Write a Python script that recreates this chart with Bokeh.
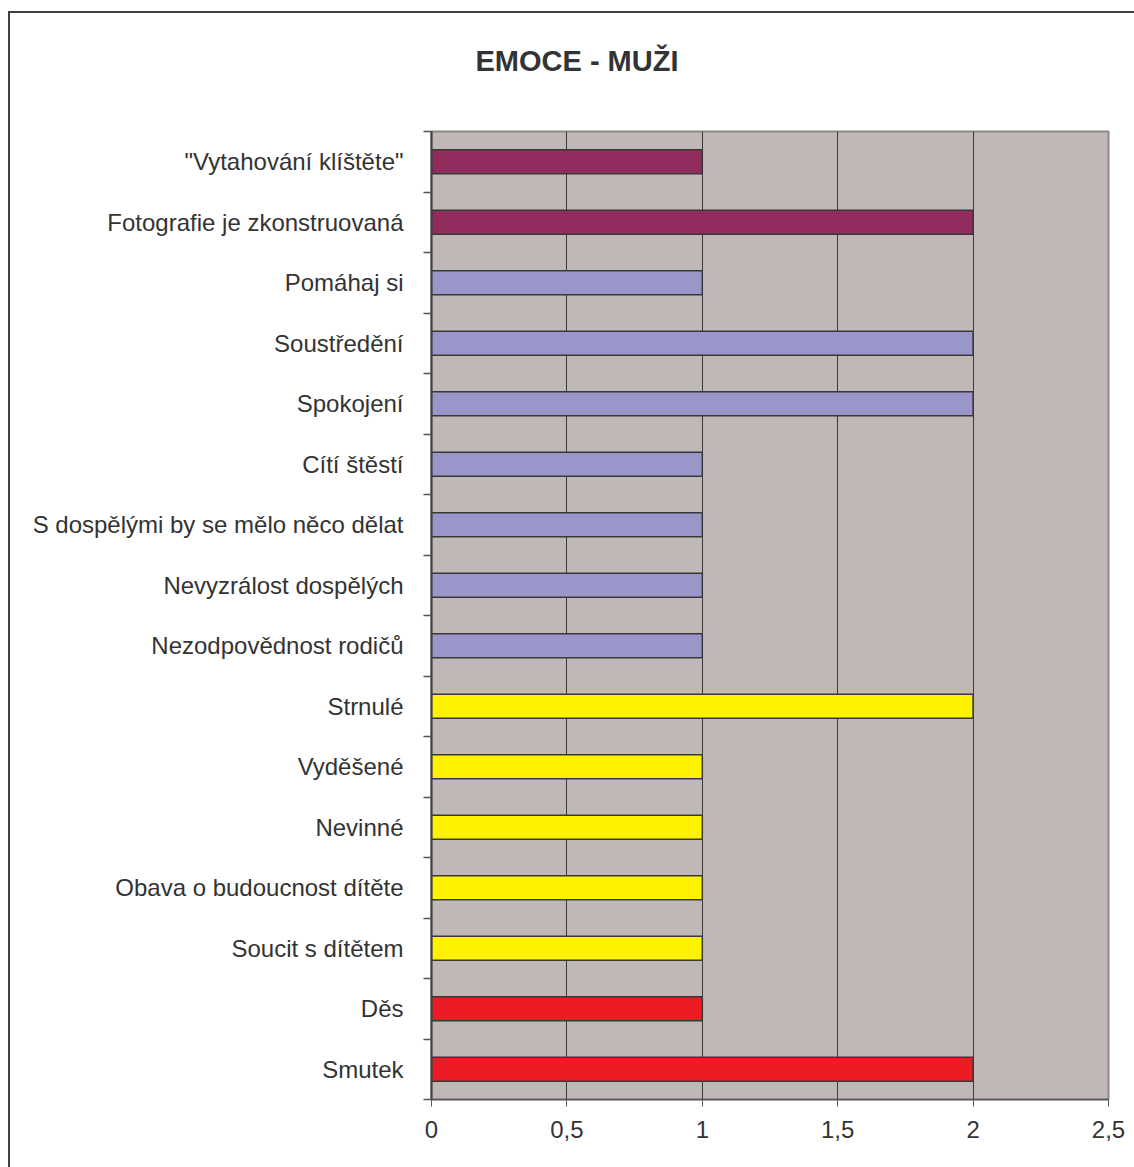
from bokeh.plotting import figure
from bokeh.models import Range1d, FixedTicker, Title, ColumnDataSource
from bokeh.embed import file_html
from bokeh.resources import INLINE

# Data (top to bottom as in the chart)
categories = [
    '"Vytahování klíštěte"',
    "Fotografie je zkonstruovaná",
    "Pomáhaj si",
    "Soustředění",
    "Spokojení",
    "Cítí štěstí",
    "S dospělými by se mělo něco dělat",
    "Nevyzrálost dospělých",
    "Nezodpovědnost rodičů",
    "Strnulé",
    "Vyděšené",
    "Nevinné",
    "Obava o budoucnost dítěte",
    "Soucit s dítětem",
    "Děs",
    "Smutek",
]
values = [1, 2, 1, 2, 2, 1, 1, 1, 1, 2, 1, 1, 1, 1, 1, 2]
colors = ["#922B5E"] * 2 + ["#9B96CA"] * 7 + ["#FFF200"] * 5 + ["#ED1C24"] * 2
x_ticks = [0, 0.5, 1, 1.5, 2, 2.5]
x_tick_labels = ["0", "0,5", "1", "1,5", "2", "2,5"]

n = len(categories)
# bottom-up positions
ypos = [n - 1 - i + 0.5 for i in range(n)]

src = ColumnDataSource(dict(y=ypos, v=values, c=colors))

FONT = "Liberation Sans"
TXT = "#333333"
W, H = 1124, 1154

p = figure(
    width=W, height=H,
    x_range=Range1d(0, 2.5), y_range=Range1d(0, n),
    output_backend="svg", toolbar_location=None,
    min_border_left=421, min_border_right=26,
    min_border_top=118, min_border_bottom=68,
    frame_width=677, frame_height=968,
)
p.styles = {
    "margin-left": "8px", "margin-top": "11px",
    "border-left": "2px solid #404040", "border-top": "2px solid #404040",
}

p.background_fill_color = "#C0B8B6"
p.border_fill_color = "white"
p.outline_line_color = "#8F8785"
p.outline_line_width = 2

p.hbar(y="y", right="v", left=0, height=0.4, fill_color="c",
       line_color="#383838", line_width=1.5, source=src)

# x axis
xa = p.xaxis[0]
xa.ticker = FixedTicker(ticks=x_ticks)
xa.major_label_overrides = {t: l for t, l in zip(x_ticks, x_tick_labels)}
xa.major_label_text_font = FONT
xa.major_label_text_font_size = "24px"
xa.major_label_text_color = TXT
xa.major_label_standoff = 14
xa.major_tick_out = 7
xa.major_tick_in = 0
xa.major_tick_line_color = "#555555"
xa.minor_tick_line_color = None
xa.axis_line_color = "#555555"
xa.axis_line_width = 1.5

# y axis: labels at centers, ticks at category boundaries
ya = p.yaxis[0]
ya.ticker = FixedTicker(ticks=ypos, minor_ticks=list(range(n + 1)))
ya.major_label_overrides = {y: c for y, c in zip(ypos, categories)}
ya.major_label_text_font = FONT
ya.major_label_text_font_size = "24px"
ya.major_label_text_color = TXT
ya.major_label_standoff = 20
ya.major_tick_line_color = None
ya.major_tick_out = 0
ya.major_tick_in = 0
ya.minor_tick_out = 8
ya.minor_tick_in = 0
ya.minor_tick_line_color = "#555555"
ya.minor_tick_line_width = 1.5
ya.axis_line_color = "#404040"
ya.axis_line_width = 2

# grid
p.xgrid.ticker = FixedTicker(ticks=[0.5, 1, 1.5, 2])
p.xgrid.grid_line_color = "#3A3A3A"
p.xgrid.grid_line_width = 1
p.ygrid.grid_line_color = None

# title: a spacer panel next to the frame, then the title above it
p.title.text = ""
spacer = Title(text=" ", text_font_size="1px", standoff=52)
p.add_layout(spacer, "above")
t = Title(text="EMOCE - MUŽI", align="left", offset=44,
          text_font=FONT, text_font_size="29px", text_font_style="bold",
          text_color=TXT, standoff=0)
p.add_layout(t, "above")

open("out.html", "w").write(file_html(p, INLINE))
